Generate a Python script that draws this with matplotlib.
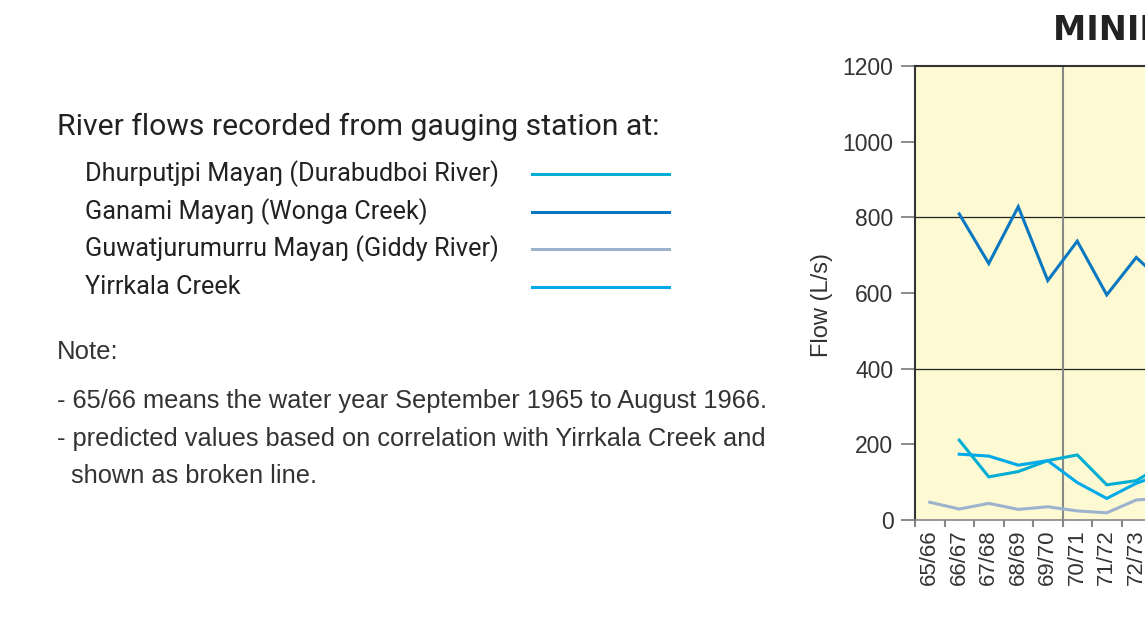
import numpy as np
import matplotlib.pyplot as plt

# water years shown on the x axis (chart is cut at the right edge)
years = ["65/66", "66/67", "67/68", "68/69", "69/70", "70/71", "71/72", "72/73", "73/74"]

# flows in L/s, None = no record
dhurputjpi = [None, 211, 114, 128, 157, 172, 93, 104, 150]
ganami = [None, 809, 678, 828, 633, 737, 595, 694, 622]
guwatjurumurru = [47, 29, 44, 28, 35, 24, 19, 53, 58]
yirrkala = [None, 174, 169, 145, 157, 99, 57, 97, 125]

series_names = ["Dhurputjpi Mayaŋ (Durabudboi River)",
                "Ganami Mayaŋ (Wonga Creek)",
                "Guwatjurumurru Mayaŋ (Giddy River)",
                "Yirrkala Creek"]
series_colors = ["#00aed3", "#0a78c0", "#9db3cd", "#00a9e8"]
series_data = [dhurputjpi, ganami, guwatjurumurru, yirrkala]

W, H = 1145, 617
fig = plt.figure(figsize=(W / 100, H / 100), dpi=100)
fig.patch.set_facecolor("white")

narrow = ["Roboto", "DejaVu Sans"]
plain = ["Liberation Sans", "DejaVu Sans"]


def px(x, y):
    return x / W, 1 - y / H


# left hand legend / notes panel
fig.text(*px(57, 127), "River flows recorded from gauging station at:",
         family=narrow, fontsize=21.7, color="#222222", va="center")
for i, (name, col) in enumerate(zip(series_names, series_colors)):
    y = [174, 212, 249, 287][i]
    fig.text(*px(85, y), name, family=narrow, fontsize=18.2,
             color="#222222", va="center")
    fig.add_artist(plt.Line2D([532 / W, 669 / W], [1 - y / H] * 2,
                              color=col, lw=2.2, transform=fig.transFigure))

fig.text(*px(57, 352), "Note:", family=plain, fontsize=18.5,
         color="#333333", va="center")
notes = ["- 65/66 means the water year September 1965 to August 1966.",
         "- predicted values based on correlation with Yirrkala Creek and",
         "  shown as broken line."]
for t, y in zip(notes, [401, 439, 476]):
    fig.text(*px(57, y), t, family=plain, fontsize=18.3, color="#333333",
             va="center")

# chart, its right part runs off the picture
step = 29.5
ax = fig.add_axes([915 / W, 1 - 520 / H, len(years) * step / W, (520 - 66) / H])
ax.set_facecolor("#fdf9d3")

x = np.arange(len(years))
for data, col in zip(series_data, series_colors):
    vals = np.array([np.nan if v is None else v for v in data], dtype=float)
    ax.plot(x, vals, color=col, lw=2.2, solid_joinstyle="miter", zorder=3)

ax.set_xlim(-0.5, len(years) - 0.5)
ax.set_ylim(0, 1200)
ax.set_yticks([0, 200, 400, 600, 800, 1000, 1200])
ax.axhline(400, color="#222222", lw=0.9, zorder=2)
ax.axhline(800, color="#222222", lw=0.9, zorder=2)
ax.axvline(4.5, color="#888888", lw=1.5, zorder=2)

ax.set_xticks(np.arange(len(years) + 1) - 0.5)
ax.set_xticklabels([])
ax.set_xticks(x, minor=True)
ax.set_xticklabels(years, minor=True, rotation=90, family=plain,
                   fontsize=16, color="#333333")
ax.tick_params(axis="x", which="minor", length=0, pad=7)
ax.tick_params(axis="x", which="major", length=5, width=1.5, color="#888888")
ax.tick_params(axis="y", length=10, width=1.2, color="#777777",
               labelsize=16.5, labelcolor="#333333", pad=5.5)
for lab in ax.get_yticklabels():
    lab.set_family(plain)

for s in ["left", "top"]:
    ax.spines[s].set_color("#333333")
    ax.spines[s].set_linewidth(1.5)
ax.spines["bottom"].set_color("#888888")
ax.spines["bottom"].set_linewidth(1.2)
ax.spines["right"].set_visible(False)

ax.set_ylabel("Flow (L/s)", family=plain, fontsize=17, color="#333333")
ax.yaxis.set_label_coords(-0.309, 0.474)

fig.text(*px(1053, 31), "MINIMUM ANNUAL FLOWS", family=["DejaVu Sans"],
         fontsize=24, fontweight="black", color="#222222", va="center")

fig.savefig("out.png", dpi=100)
